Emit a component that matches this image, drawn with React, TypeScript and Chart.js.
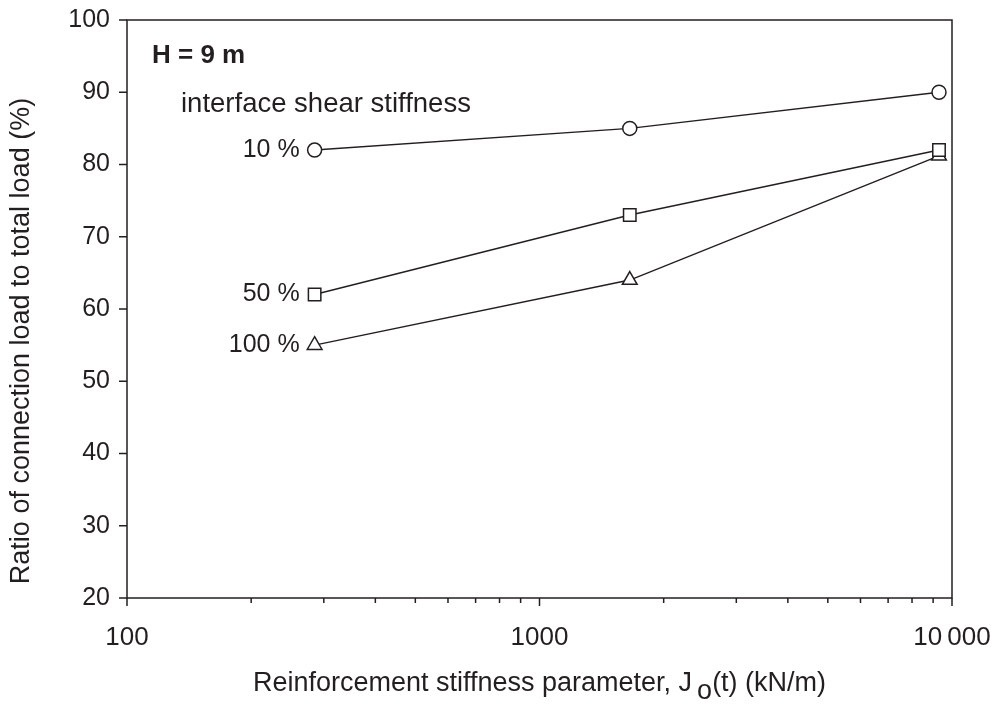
import { useEffect, useRef } from "react";
import { Chart, registerables } from "chart.js";

Chart.register(...registerables);

const stiffness = [285, 1655, 9300];
const ratio10 = [82, 85, 90];
const ratio50 = [62, 73, 82];
const ratio100 = [55, 64, 81.2];
const seriesLabels = ["10 %", "50 %", "100 %"];
const xMajorTicks = [100, 1000, 10000];
const xTickLabels = ["100", "1000", "10\u2009000"];
const yMin = 20;
const yMax = 100;
const yStep = 10;
const titleText = "H = 9 m";
const subTitleText = "interface shear stiffness";
const yTitle = "Ratio of connection load to total load (%)";
const xTitleParts = ["Reinforcement stiffness parameter, J", "o", "(t) (kN/m)"];

const INK = "#231f20";
const FONT = '"Liberation Sans", Arial, Helvetica, sans-serif';

const overlayPlugin = {
  id: "overlay",
  afterDraw(chart: any) {
    const { ctx, chartArea } = chart;
    const xs = chart.scales.x;
    const ys = chart.scales.y;
    ctx.save();
    ctx.strokeStyle = INK;
    ctx.fillStyle = INK;
    ctx.lineWidth = 1.5;
    // frame
    ctx.strokeRect(chartArea.left, chartArea.top, chartArea.right - chartArea.left, chartArea.bottom - chartArea.top);
    // x ticks (major + minor)
    const lo = Math.log10(xMajorTicks[0]);
    const hi = Math.log10(xMajorTicks[xMajorTicks.length - 1]);
    ctx.beginPath();
    for (let e = lo; e <= hi; e++) {
      for (let m = 1; m <= 9; m++) {
        const v = m * Math.pow(10, e);
        if (v > xMajorTicks[xMajorTicks.length - 1] + 1e-6) break;
        const px = xs.getPixelForValue(v);
        const len = m === 1 ? 8 : 5;
        ctx.moveTo(px, chartArea.bottom);
        ctx.lineTo(px, chartArea.bottom + len);
      }
    }
    // y ticks
    for (let v = yMin; v <= yMax; v += yStep) {
      const py = ys.getPixelForValue(v);
      ctx.moveTo(chartArea.left - 8, py);
      ctx.lineTo(chartArea.left, py);
    }
    ctx.stroke();

    // annotations
    ctx.textBaseline = "middle";
    ctx.textAlign = "left";
    ctx.font = `bold 26px ${FONT}`;
    ctx.fillText(titleText, chartArea.left + 25, chartArea.top + 36);
    ctx.font = `27.5px ${FONT}`;
    ctx.fillText(subTitleText, chartArea.left + 54, chartArea.top + 84);

    // series labels
    ctx.textAlign = "right";
    ctx.font = `25px ${FONT}`;
    chart.data.datasets.forEach((ds: any, i: number) => {
      const p = ds.data[0];
      const px = xs.getPixelForValue(p.x);
      const py = ys.getPixelForValue(p.y);
      ctx.fillText(seriesLabels[i], px - 15, py);
    });

    // y title
    ctx.save();
    ctx.translate(22, (chartArea.top + chartArea.bottom) / 2 + 32);
    ctx.rotate(-Math.PI / 2);
    ctx.textAlign = "center";
    ctx.font = `27px ${FONT}`;
    ctx.fillText(yTitle, 0, 0);
    ctx.restore();

    // x title with subscript
    ctx.font = `27px ${FONT}`;
    const w0 = ctx.measureText(xTitleParts[0]).width;
    const w1 = ctx.measureText(xTitleParts[1]).width;
    const w2 = ctx.measureText(xTitleParts[2]).width;
    const gap = 5;
    const total = w0 + gap + w1 + w2;
    const x0 = (chartArea.left + chartArea.right) / 2 - total / 2;
    const yT = 684;
    ctx.textAlign = "left";
    ctx.fillText(xTitleParts[0], x0, yT);
    ctx.fillText(xTitleParts[1], x0 + w0 + gap, yT + 8);
    ctx.fillText(xTitleParts[2], x0 + w0 + gap + w1, yT);
    ctx.restore();
  },
};

export default function App() {
  const ref = useRef<HTMLCanvasElement | null>(null);
  useEffect(() => {
    document.body.style.margin = "0";
    const mk = (vals: number[]) => stiffness.map((x, i) => ({ x, y: vals[i] }));
    const common = {
      borderColor: INK,
      pointBorderColor: INK,
      pointBackgroundColor: "#ffffff",
      borderWidth: 1.5,
      pointBorderWidth: 1.5,
      showLine: true,
      fill: false,
      tension: 0,
    };
    const chart = new Chart(ref.current as HTMLCanvasElement, {
      type: "scatter",
      data: {
        datasets: [
          { ...common, label: seriesLabels[0], data: mk(ratio10), pointStyle: "circle", pointRadius: 7 },
          { ...common, label: seriesLabels[1], data: mk(ratio50), pointStyle: "rect", pointRadius: 8.8 },
          { ...common, label: seriesLabels[2], data: mk(ratio100), pointStyle: "triangle", pointRadius: 8.5 },
        ],
      },
      options: {
        animation: false,
        responsive: true,
        maintainAspectRatio: false,
        layout: { padding: { top: 20, right: 45, left: 0, bottom: 0 } },
        plugins: { legend: { display: false }, tooltip: { enabled: false } },
        scales: {
          x: {
            type: "logarithmic",
            min: xMajorTicks[0],
            max: xMajorTicks[xMajorTicks.length - 1],
            grid: { display: false },
            border: { display: false },
            afterBuildTicks: (s: any) => {
              s.ticks = xMajorTicks.map((v) => ({ value: v }));
            },
            afterFit: (s: any) => {
              s.height = 106;
              s.paddingLeft = 0;
              s.paddingRight = 0;
            },
            ticks: {
              color: INK,
              font: { family: FONT, size: 26 },
              padding: 16,
              maxRotation: 0,
              autoSkip: false,
              callback: (v: any) => {
                const i = xMajorTicks.indexOf(Number(v));
                return i >= 0 ? xTickLabels[i] : "";
              },
            },
          },
          y: {
            min: yMin,
            max: yMax,
            grid: { display: false },
            border: { display: false },
            afterFit: (s: any) => {
              s.width = 127;
              s.paddingTop = 0;
              s.paddingBottom = 0;
            },
            ticks: {
              stepSize: yStep,
              color: INK,
              font: { family: FONT, size: 25 },
              padding: 9,
            },
          },
        },
      },
      plugins: [overlayPlugin],
    } as any);
    return () => chart.destroy();
  }, []);
  return (
    <div style={{ position: "absolute", left: 0, top: 0, width: 997, height: 704 }}>
      <canvas ref={ref} />
    </div>
  );
}
